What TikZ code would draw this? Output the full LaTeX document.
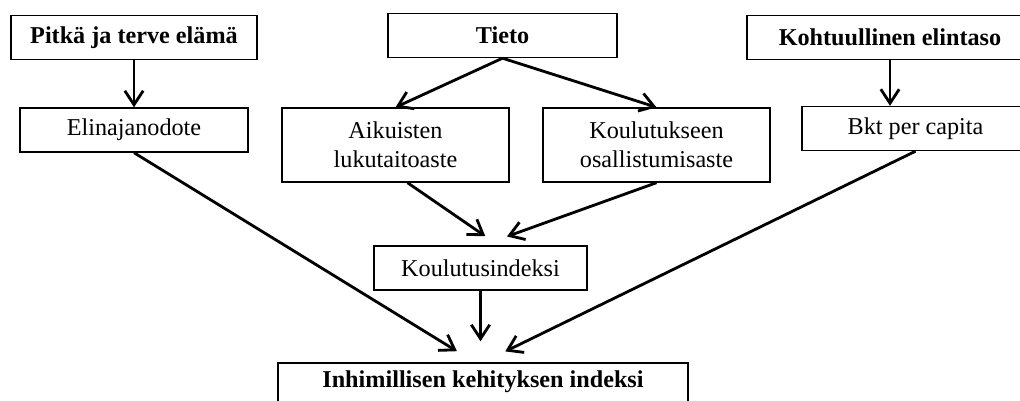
\documentclass[tikz,border=0pt]{standalone}
\usepackage{fontspec}
\setmainfont{Liberation Serif}
\usetikzlibrary{arrows.meta,calc}

\begin{document}
\begin{tikzpicture}[x=0.025cm,y=-0.025cm,
        box/.style={draw,line width=1pt,inner sep=0pt,minimum height=1.1cm,align=center,font=\fontsize{17.2}{20.5}\selectfont},
        head/.style={box,font=\fontsize{17.2}{20.5}\selectfont\bfseries},
        arr/.style={line width=2pt,-{Straight Barb[length=3.5mm,width=4.6mm]}}]
        \clip (0,0) rectangle (1020,401);
        \node[head,minimum width=6.15cm] (pitka) at (134,37.5) {Pitkä ja terve elämä};
        \node[head,minimum width=5.725cm] (tieto) at (502.5,35.5) {Tieto};
        \node[head,minimum width=7.15cm] (kohtuu) at (890,37.5) {Kohtuullinen elintaso};
        \node[box,minimum width=5.7cm] (elin) at (134,130) {Elinajanodote};
        \node[box,minimum width=5.675cm,minimum height=1.85cm] (aikuis) at (395.5,145) {Aikuisten\\lukutaitoaste};
        \node[box,minimum width=5.675cm,minimum height=1.85cm] (koulut) at (656.5,145) {Koulutukseen\\osallistumisaste};
        \node[box,minimum width=5.675cm] (bkt) at (915.5,128.5) {Bkt per capita};
        \node[box,minimum width=5.325cm] (kindeksi) at (480.5,268) {Koulutusindeksi};
        \node[head,minimum width=10.25cm,text depth=8pt] (hdi) at (483,385) {Inhimillisen kehityksen indeksi};
        \draw[arr] (pitka) -- (elin);
        \draw[arr] (kohtuu.south) -- (kohtuu.south |- bkt.north);
        \draw[arr] (tieto.south) -- (aikuis.north);
        \draw[arr] (tieto.south) -- (koulut.north);
        \draw[arr,shorten >=0.4cm] ($(aikuis.south)+(12,0)$) -- ($(kindeksi.north)+(18,0)$);
        \draw[arr,shorten >=0.65cm] (koulut.south) -- ($(kindeksi.north)+(2,0)$);
        \draw[arr,shorten >=0.525cm] (kindeksi.south) -- (kindeksi.south |- hdi.north);
        \draw[arr,shorten >=0.53cm] (elin.south) -- ($(hdi.north)+(-8,0)$);
        \draw[arr,shorten >=0.62cm] (bkt.south) -- (hdi.north);
    \end{tikzpicture}
\end{document}
